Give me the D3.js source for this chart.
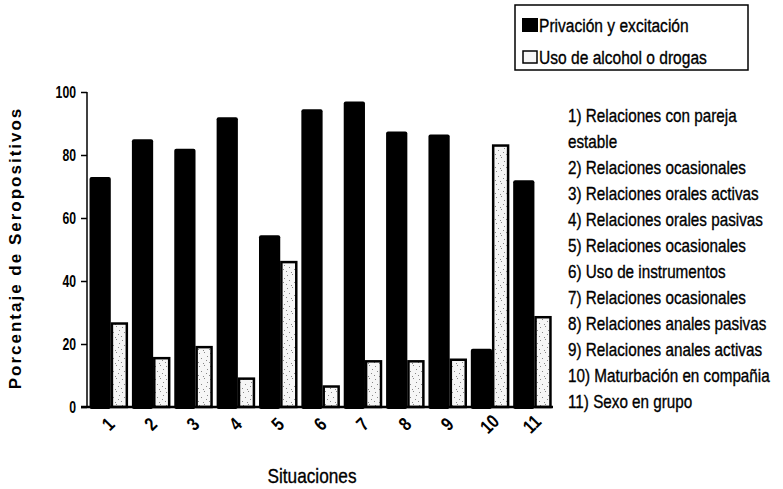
<html>
<head>
<script src="https://d3js.org/d3.v7.min.js"></script>
<style>
  body { margin: 0; padding: 0; background: #fff; }
  svg { display: block; }
  text { font-family: "Liberation Sans", Arial, sans-serif; fill: #000; }
  .heavy { stroke: #000; stroke-width: 0.35; }
</style>
</head>
<body>
<script>
// data
var situaciones = ["1","2","3","4","5","6","7","8","9","10","11"];
var series = ["Privación y excitación", "Uso de alcohol o drogas"];
var privacion = [73, 85, 82, 92, 54.5, 94.5, 97, 87.5, 86.5, 18.5, 72];
var alcohol   = [26.5, 15.5, 19, 9, 46, 6.5, 14.5, 14.5, 15, 83, 28.5];
var yTicks = [0, 20, 40, 60, 80, 100];
var descripciones = [
  "1) Relaciones con pareja",
  "estable",
  "2) Relaciones ocasionales",
  "3) Relaciones orales activas",
  "4) Relaciones orales pasivas",
  "5) Relaciones ocasionales",
  "6) Uso de instrumentos",
  "7) Relaciones ocasionales",
  "8) Relaciones anales pasivas",
  "9) Relaciones anales activas",
  "10) Maturbación en compañia",
  "11) Sexo en grupo"
];

var width = 783, height = 489;
var mLeft = 87, mRight = 553, mTop = 92, mBottom = 407;
var narrow = 0.82; // squeeze for an Arial Narrow look

var svg = d3.select("body").append("svg")
    .attr("width", width)
    .attr("height", height);

// stipple texture for the light bars
var defs = svg.append("defs");
var pat = defs.append("pattern")
    .attr("id", "stipple")
    .attr("patternUnits", "userSpaceOnUse")
    .attr("width", 11).attr("height", 13);
pat.append("rect").attr("width", 11).attr("height", 13).attr("fill", "#f6f6f6");
[[1,2],[6,1],[3,7],[8,9],[0,11],[9,5],[5,12]].forEach(function(p) {
  pat.append("rect").attr("x", p[0]).attr("y", p[1])
    .attr("width", 1).attr("height", 1).attr("fill", "#888");
});

var x0 = d3.scaleBand()
    .domain(situaciones)
    .range([mLeft, mRight])
    .paddingInner(0.12)
    .paddingOuter(0.06);

// position inside a group, as a fraction of the band
var x1 = d3.scaleLinear().domain([0, 1]).range([0, x0.bandwidth()]);

var y = d3.scaleLinear().domain([0, 100]).range([mBottom, mTop]);

var rows = situaciones.map(function(s, i) {
  return { s: s, a: privacion[i], b: alcohol[i] };
});

// black bars
svg.append("g").selectAll("rect")
  .data(rows)
  .enter().append("rect")
    .attr("x", function(d) { return x0(d.s) + x1(0); })
    .attr("y", function(d) { return y(d.a); })
    .attr("width", x1(0.57))
    .attr("height", function(d) { return y(0) - y(d.a) + 2; })
    .attr("rx", 2)
    .attr("fill", "#000");

// light bars
svg.append("g").selectAll("rect")
  .data(rows)
  .enter().append("rect")
    .attr("x", function(d) { return x0(d.s) + x1(0.6); })
    .attr("y", function(d) { return y(d.b); })
    .attr("width", x1(0.4))
    .attr("height", function(d) { return y(0) - y(d.b); })
    .attr("fill", "url(#stipple)")
    .attr("stroke", "#000")
    .attr("stroke-width", 2.5);

// y axis
var yAxis = svg.append("g")
    .attr("transform", "translate(" + mLeft + ",0)")
    .call(d3.axisLeft(y).tickValues(yTicks).tickSize(6).tickPadding(0));
yAxis.select(".domain").attr("stroke-width", 1.5).attr("d", "M0," + mTop + "V" + mBottom);
yAxis.selectAll(".tick line").attr("stroke-width", 1.5);
yAxis.selectAll(".tick text")
    .attr("x", null)
    .attr("font-size", 17)
    .attr("font-weight", "bold")
    .attr("font-family", "Liberation Sans, Arial, sans-serif")
    .attr("transform", "translate(-11,0) scale(0.72,1)");

// x axis
var xAxis = svg.append("g")
    .attr("transform", "translate(0," + mBottom + ")")
    .call(d3.axisBottom(x0).tickSize(0).tickPadding(0));
xAxis.select(".domain").attr("stroke-width", 2.5).attr("d", "M" + (mLeft - 6) + ",0H" + mRight);
xAxis.selectAll(".tick text")
    .attr("font-size", 19)
    .attr("font-weight", "bold")
    .attr("font-family", "Liberation Sans, Arial, sans-serif")
    .attr("dy", "0.35em")
    .attr("y", null)
    .attr("text-anchor", "middle")
    .attr("transform", "translate(0,17) rotate(-45) scale(" + narrow + ",1)");

// axis titles
svg.append("text")
    .attr("transform", "translate(21,248) rotate(-90)")
    .attr("text-anchor", "middle")
    .attr("font-size", 17)
    .attr("font-weight", "bold")
    .attr("letter-spacing", 2)
    .text("Porcentaje de Seropositivos");

svg.append("text")
    .attr("class", "heavy")
    .attr("transform", "translate(312,483) scale(" + narrow + ",1)")
    .attr("text-anchor", "middle")
    .attr("font-size", 21)
    .text("Situaciones");

// legend
var legend = svg.append("g");
legend.append("rect")
    .attr("x", 515).attr("y", 5)
    .attr("width", 233).attr("height", 65)
    .attr("fill", "#fff")
    .attr("stroke", "#000")
    .attr("stroke-width", 1.5);
series.forEach(function(name, i) {
  var yy = 18 + i * 32;
  legend.append("rect")
    .attr("x", 522 + (i ? 1 : 0)).attr("y", yy + (i ? 1 : 0))
    .attr("width", i ? 14 : 16).attr("height", i ? 12 : 14)
    .attr("fill", i ? "#f6f6f6" : "#000")
    .attr("stroke", "#000")
    .attr("stroke-width", i ? 1.5 : 0);
  legend.append("text")
    .attr("class", "heavy")
    .attr("transform", "translate(539," + (yy + 14) + ") scale(" + narrow + ",1)")
    .attr("font-size", 19)
    .text(name);
});

// list of situations
svg.append("g")
    .attr("transform", "translate(568,0) scale(" + narrow + ",1)")
  .selectAll("text")
  .data(descripciones)
  .enter().append("text")
    .attr("class", "heavy")
    .attr("x", 0)
    .attr("y", function(d, i) { return 122 + i * 26; })
    .attr("font-size", 18.6)
    .text(function(d) { return d; });
</script>
</body>
</html>
